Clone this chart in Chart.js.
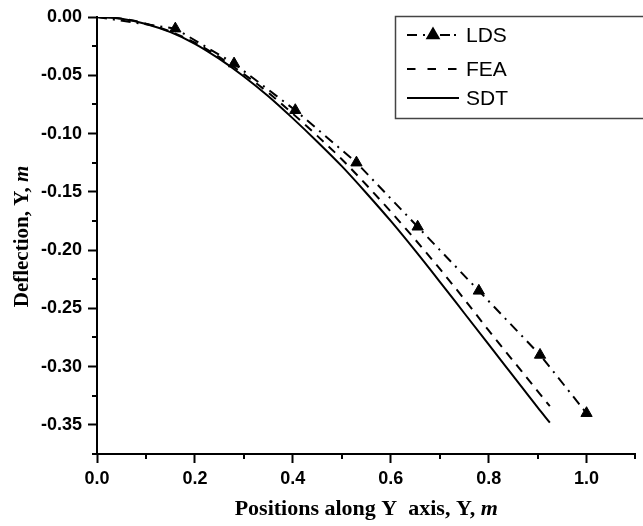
<!DOCTYPE html>
<html>
<head>
<meta charset="utf-8">
<script src="https://cdn.jsdelivr.net/npm/chart.js@4.4.1/dist/chart.umd.min.js"></script>
<style>
  html, body { margin: 0; padding: 0; background: #fff; }
</style>
</head>
<body>
<canvas id="chart" width="643" height="526"></canvas>
<script>
// LDS points (m)
const ldsX = [0, 0.16, 0.28, 0.405, 0.53, 0.655, 0.78, 0.905, 1.0];
const ldsY = [0, -0.010, -0.040, -0.080, -0.125, -0.180, -0.235, -0.290, -0.340];

// FEA and SDT curves share the same positions
const curveX = [0, 0.05, 0.1, 0.15, 0.2, 0.25, 0.3, 0.35, 0.4, 0.45, 0.5,
                0.55, 0.6, 0.65, 0.7, 0.75, 0.8, 0.85, 0.9, 0.925];
const feaY = [0, -0.0014, -0.0057, -0.0125, -0.022, -0.0345, -0.049, -0.065, -0.083, -0.102, -0.122,
              -0.144, -0.167, -0.191, -0.216, -0.242, -0.269, -0.295, -0.321, -0.334];
const sdtY = [0, -0.0015, -0.006, -0.013, -0.023, -0.036, -0.051, -0.068, -0.087, -0.107, -0.128,
              -0.151, -0.175, -0.2005, -0.227, -0.254, -0.281, -0.308, -0.335, -0.348];

const seriesNames = ["LDS", "FEA", "SDT"];

// axis ranges / tick steps
const xMin = 0, xMax = 1.1, xStep = 0.2, xMinorStep = 0.1;
const yMin = -0.375, yMax = 0, yStep = 0.05, yMinorStep = 0.025;

const SANS = '"Liberation Sans", Arial, Helvetica, sans-serif';
const SERIF = '"Liberation Serif", "Times New Roman", Times, serif';

const toPoints = (xs, ys) => xs.map((x, i) => ({ x, y: ys[i] }));

// minor tick marks on both axes
const minorTicks = {
  id: "minorTicks",
  afterDraw(chart) {
    const { ctx, chartArea: a, scales: { x, y } } = chart;
    ctx.save();
    ctx.strokeStyle = "#000";
    ctx.lineWidth = 2;
    ctx.beginPath();
    for (let v = xMin + xMinorStep; v < xMax; v += xStep) {
      const px = Math.round(x.getPixelForValue(v));
      ctx.moveTo(px, a.bottom);
      ctx.lineTo(px, a.bottom + 5);
    }
    for (let v = yMax - yMinorStep; v > yMin; v -= yStep) {
      const py = Math.round(y.getPixelForValue(v));
      ctx.moveTo(a.left, py);
      ctx.lineTo(a.left - 5, py);
    }
    ctx.stroke();
    ctx.restore();
  }
};

// axis titles with an italic unit
function mixedText(ctx, parts, cx, cy) {
  let total = 0;
  parts.forEach(p => { ctx.font = p.font; total += ctx.measureText(p.text).width; });
  let x = cx - total / 2;
  parts.forEach(p => {
    ctx.font = p.font;
    ctx.fillText(p.text, x, cy);
    x += ctx.measureText(p.text).width;
  });
}
const axisTitles = {
  id: "axisTitles",
  afterDraw(chart) {
    const { ctx, chartArea: a } = chart;
    ctx.save();
    ctx.fillStyle = "#000";
    ctx.textBaseline = "middle";
    ctx.textAlign = "left";
    mixedText(ctx, [
      { text: "Positions along Y  axis, Y, ", font: "bold 22px " + SERIF },
      { text: "m", font: "italic bold 22px " + SERIF }
    ], (a.left + a.right) / 2, 509);
    ctx.translate(23, (a.top + a.bottom) / 2 + 1);
    ctx.rotate(-Math.PI / 2);
    mixedText(ctx, [
      { text: "Deflection, Y, ", font: "bold 21px " + SERIF },
      { text: "m", font: "italic bold 21px " + SERIF }
    ], 0, 0);
    ctx.restore();
  }
};

// boxed legend in the top right corner
const legendBox = {
  id: "legendBox",
  afterDraw(chart) {
    const ctx = chart.ctx;
    const rows = [35, 69, 98];
    ctx.save();
    ctx.strokeStyle = "#444";
    ctx.lineWidth = 1.5;
    ctx.strokeRect(395.5, 16.5, 260, 102);
    chart.data.datasets.forEach((ds, i) => {
      const y = rows[i];
      ctx.strokeStyle = ds.borderColor;
      ctx.lineWidth = ds.borderWidth;
      ctx.setLineDash(ds.legendDash || []);
      ctx.beginPath();
      ctx.moveTo(407, y);
      ctx.lineTo(459, y);
      ctx.stroke();
      ctx.setLineDash([]);
      if (ds.pointStyle) {
        Chart.helpers.drawPoint(ctx, {
          pointStyle: ds.pointStyle, radius: 6.5, rotation: 0, borderWidth: 1
        }, 433, y);
      }
      ctx.fillStyle = "#000";
      ctx.font = "21px " + SANS;
      ctx.textBaseline = "middle";
      ctx.fillText(ds.label, 466, y + 1);
    });
    ctx.restore();
  }
};

new Chart(document.getElementById("chart"), {
  type: "scatter",
  data: {
    datasets: [
      {
        label: seriesNames[0],
        data: toPoints(ldsX, ldsY),
        showLine: true,
        borderColor: "#000",
        backgroundColor: "#000",
        borderWidth: 2,
        borderDash: [10, 6, 2, 6],
        legendDash: [10, 6, 2, 15, 10, 4, 2, 6],
        pointStyle: "triangle",
        pointRadius: ldsX.map(x => (x === 0 ? 0 : 6.5)),
        pointBorderWidth: 1,
        tension: 0
      },
      {
        label: seriesNames[1],
        data: toPoints(curveX, feaY),
        showLine: true,
        borderColor: "#000",
        borderWidth: 2,
        borderDash: [9, 7],
        legendDash: [8.5, 12],
        pointRadius: 0,
        cubicInterpolationMode: "monotone"
      },
      {
        label: seriesNames[2],
        data: toPoints(curveX, sdtY),
        showLine: true,
        borderColor: "#000",
        borderWidth: 2,
        pointRadius: 0,
        cubicInterpolationMode: "monotone"
      }
    ]
  },
  options: {
    responsive: false,
    animation: false,
    devicePixelRatio: 1,
    layout: { padding: { top: 17, right: 0, left: 0, bottom: 0 } },
    plugins: { legend: { display: false }, tooltip: { enabled: false } },
    scales: {
      x: {
        type: "linear",
        min: xMin, max: xMax,
        afterFit: s => { s.height = 72; },
        border: { display: true, color: "#000", width: 2 },
        grid: { drawOnChartArea: false, tickLength: 9, tickWidth: 2, tickColor: "#000" },
        ticks: {
          stepSize: xStep,
          includeBounds: false,
          padding: 5,
          color: "#000",
          font: { family: SANS, size: 18, weight: "bold" },
          callback: v => v.toFixed(1)
        }
      },
      y: {
        type: "linear",
        min: yMin, max: yMax,
        afterFit: s => { s.width = 97; },
        border: { display: true, color: "#000", width: 2 },
        grid: { drawOnChartArea: false, tickLength: 9, tickWidth: 2, tickColor: "#000" },
        ticks: {
          stepSize: yStep,
          includeBounds: false,
          padding: 6,
          color: "#000",
          font: { family: SANS, size: 18, weight: "bold" },
          callback: v => (Math.abs(v) < 1e-9 ? "0.00" : v.toFixed(2))
        }
      }
    }
  },
  plugins: [minorTicks, axisTitles, legendBox]
});
</script>
</body>
</html>
